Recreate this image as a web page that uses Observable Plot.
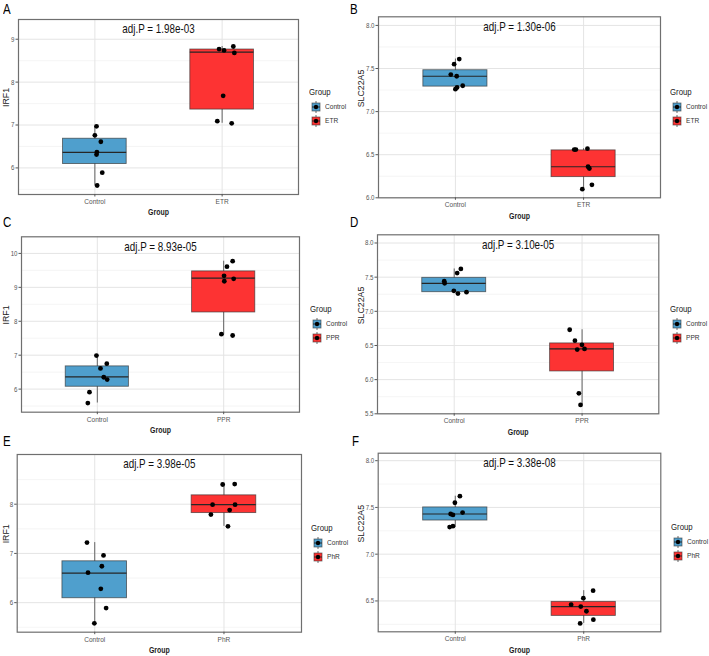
<!DOCTYPE html>
<html><head><meta charset="utf-8">
<script src="https://cdn.jsdelivr.net/npm/d3@7"></script>
<script src="https://cdn.jsdelivr.net/npm/@observablehq/plot@0.6"></script>
<style>
body{margin:0;background:#fff;}
#root{position:relative;width:709px;height:656px;overflow:hidden;font-family:'Liberation Sans',Arial,sans-serif;}
.abs{position:absolute;white-space:nowrap;}
.narrow{transform:scaleX(0.82);transform-origin:0 50%;}
.letter{font-size:14px;color:#000;line-height:14px;}
.legtitle{font-size:9.5px;color:#222;line-height:12px;}
.legitem{font-size:8px;color:#333;line-height:10px;}
svg{overflow:visible;}
</style></head><body><div id="root"></div>
<script>
// ---------------- data ----------------
const panelLetters = ["A","B","C","D","E","F"];
const genes = ["IRF1","SLC22A5","IRF1","SLC22A5","IRF1","SLC22A5"];
const treatGroups = ["ETR","ETR","PPR","PPR","PhR","PhR"];
const adjP = ["1.98e-03","1.30e-06","8.93e-05","3.10e-05","3.98e-05","3.38e-08"];

const controlValues = [
  [6.97, 6.76, 6.61, 6.37, 6.31, 5.89, 5.59],
  [7.55, 7.61, 7.43, 7.41, 7.30, 7.28, 7.26],
  [6.99, 6.75, 6.61, 6.35, 6.28, 5.91, 5.59],
  [7.62, 7.56, 7.44, 7.41, 7.30, 7.26, 7.28],
  [7.22, 6.96, 6.74, 6.61, 6.28, 5.89, 5.58],
  [7.62, 7.55, 7.445, 7.43, 7.42, 7.29, 7.30]
];
const controlJitter = [
  [0.013, 0.0, 0.047, 0.016, 0.013, 0.058, 0.018],
  [-0.01, 0.03, -0.036, 0.01, 0.057, 0.013, 0.0],
  [-0.007, 0.075, 0.025, 0.051, 0.078, -0.062, -0.075],
  [0.052, 0.023, -0.078, -0.075, -0.003, 0.029, 0.096],
  [-0.06, 0.068, 0.055, -0.052, 0.047, 0.088, -0.003],
  [0.036, -0.003, 0.057, -0.036, -0.018, -0.044, -0.018]
];
const treatValues = [
  [8.77, 8.74, 8.83, 8.68, 7.68, 7.09, 7.04],
  [6.56, 6.56, 6.57, 6.36, 6.34, 6.15, 6.10],
  [9.77, 9.61, 9.34, 9.18, 9.25, 7.62, 7.58],
  [6.73, 6.57, 6.51, 6.44, 6.45, 5.80, 5.63],
  [8.40, 8.41, 7.99, 7.99, 7.88, 7.79, 7.55],
  [6.61, 6.53, 6.46, 6.44, 6.39, 6.30, 6.26]
];
const treatJitter = [
  [-0.024, 0.015, 0.088, 0.096, 0.008, -0.038, 0.075],
  [-0.073, -0.06, 0.03, 0.035, 0.045, 0.065, -0.01],
  [0.071, 0.026, 0.003, 0.005, 0.079, -0.018, 0.071],
  [-0.097, -0.056, -0.001, -0.038, 0.019, -0.025, -0.012],
  [-0.01, 0.083, -0.088, 0.086, 0.044, -0.101, 0.031],
  [0.073, -0.003, -0.098, -0.023, 0.021, 0.075, -0.028]
];
// box stats: [lower whisker, Q1, median, Q3, upper whisker]
const controlBox = [
  [5.59, 6.09, 6.36, 6.68, 6.97],
  [7.26, 7.29, 7.41, 7.48, 7.61],
  [5.59, 6.07, 6.36, 6.67, 6.99],
  [7.26, 7.28, 7.41, 7.49, 7.62],
  [5.58, 6.09, 6.60, 6.84, 7.22],
  [7.29, 7.36, 7.43, 7.50, 7.62]
];
const treatBox = [
  [7.04, 7.36, 8.70, 8.76, 8.83],
  [6.10, 6.24, 6.36, 6.55, 6.57],
  [7.60, 8.26, 9.27, 9.47, 9.77],
  [5.63, 6.12, 6.45, 6.53, 6.73],
  [7.55, 7.82, 7.99, 8.18, 8.41],
  [6.26, 6.34, 6.44, 6.49, 6.61]
];
const yDomains = [[5.38, 9.46],[6.0, 8.1],[5.32, 10.49],[5.5, 8.12],[5.40, 9.01],[6.17, 8.08]];
const yTicks = [[6,7,8,9],[6,6.5,7,7.5,8],[6,7,8,9,10],[5.5,6,6.5,7,7.5,8],[6,7,8],[6.5,7,7.5,8]];
const yTickDecimals = [0,1,0,1,0,1];

// ---------------- layout ----------------
const controlColor = "#4f9fcd";
const treatColor = "#fd3333";
const origins = [[0,0],[355,0],[0,215],[355,215],[0,430],[355,430]];
const frames = [[18,298,19,194],[23,305,16.3,197.3],[21,299,21.3,196.7],[22,303.3,19.3,198.3],[16.7,301,24,201.7],[22.7,305.3,22.7,201.3]];
const legendPos = [[309,92],[315,92],[310,94],[315,94.3],[311,98.3],[316,96.7]];
const letterPos = [[3,2],[350,2],[3,215],[350,215],[3,434],[352,434]];
const FONT = "'Liberation Sans',Arial,sans-serif";
const NARROW = 0.82;

const root = document.getElementById("root");

// horizontally condense non-rotated texts around their anchor point
function narrowTexts(svg){
  const num = /^\s*-?\d*\.?\d+\s*$/;
  svg.querySelectorAll("text").forEach(t => {
    const tr = t.getAttribute("transform") || "";
    if (tr.includes("rotate")) return;
    const xa = t.getAttribute("x");
    let xs = 0;
    if (xa != null && num.test(xa)) { xs = +xa; t.removeAttribute("x"); }
    t.setAttribute("transform", `${tr} translate(${xs},0) scale(${NARROW},1)`);
  });
}

function makePanel(i){
  const [ox, oy] = origins[i];
  const [L, R, T, B] = frames[i];
  const W = R + 6, H = B + 26;
  const cats = ["Control", treatGroups[i]];
  const pts = [
    ...controlValues[i].map((v,k)=>({x: 1 + controlJitter[i][k], y: v})),
    ...treatValues[i].map((v,k)=>({x: 2 + treatJitter[i][k], y: v}))
  ];
  const toBox = (b, x) => ({x, lo:b[0], q1:b[1], med:b[2], q3:b[3], hi:b[4]});
  const bc = [toBox(controlBox[i], 1)], bt = [toBox(treatBox[i], 2)];
  const yt = yTicks[i];
  const step = yt[1] - yt[0];
  const [d0, d1] = yDomains[i];
  const minors = Array.from(new Set(yt.flatMap(t => [t - step/2, t + step/2]).map(v => +v.toFixed(4))))
    .filter(v => v > d0 && v < d1 && !yt.includes(v));
  const fmt = d3.format("." + yTickDecimals[i] + "f");
  const boxRect = (data, color) => Plot.rect(data, {x1: d => d.x - 0.25, x2: d => d.x + 0.25, y1: "q1", y2: "q3",
      fill: color, stroke: "#333", strokeOpacity: 0.7, strokeWidth: 0.9});
  const svg = Plot.plot({
    width: W, height: H,
    marginLeft: L, marginRight: W - R, marginTop: T, marginBottom: H - B,
    x: {domain: [0.4, 2.6]},
    y: {domain: yDomains[i]},
    style: {fontFamily: FONT, background: "transparent", overflow: "visible"},
    marks: [
      Plot.ruleY(minors, {stroke: "#eeeeee", strokeWidth: 0.6}),
      Plot.ruleY(yt, {stroke: "#e4e4e4", strokeWidth: 1}),
      Plot.ruleX([1, 2], {stroke: "#e4e4e4", strokeWidth: 1}),
      Plot.ruleX([...bc, ...bt], {x: "x", y1: "lo", y2: "hi", stroke: "#555", strokeWidth: 0.9}),
      boxRect(bc, controlColor),
      boxRect(bt, treatColor),
      Plot.ruleY([...bc, ...bt], {y: "med", x1: d => d.x - 0.25, x2: d => d.x + 0.25, stroke: "#262626", strokeWidth: 1.2}),
      Plot.dot(pts, {x: "x", y: "y", r: 2.4, fill: "#000"}),
      Plot.frame({stroke: "#6f6f6f", strokeWidth: 1.2}),
      Plot.axisY({ticks: yt, tickFormat: fmt, tickSize: 2.5, tickPadding: 1.5, fontSize: 7.5, color: "#555", label: null}),
      Plot.axisX({ticks: [1, 2], tickFormat: d => cats[d - 1], tickSize: 2.5, tickPadding: 1.5, fontSize: 8, color: "#555", label: null}),
      Plot.text([`adj.P = ${adjP[i]}`], {x: [1.5], frameAnchor: "top", dy: 10, fontSize: 12, fill: "#111", lineAnchor: "middle", textAnchor: "middle"}),
      Plot.text(["Group"], {frameAnchor: "bottom", dy: 18, fontSize: 8.5, fontWeight: "bold", fill: "#222", lineAnchor: "middle"}),
      Plot.text([genes[i]], {frameAnchor: "left", dx: 6 - L, rotate: -90, fontSize: 8.8, fill: "#222", lineAnchor: "middle"})
    ]
  });
  svg.classList.add("abs");
  svg.style.left = ox + "px";
  svg.style.top = oy + "px";
  narrowTexts(svg);
  root.appendChild(svg);

  // panel letter
  const let_ = document.createElement("div");
  let_.className = "abs letter narrow";
  let_.textContent = panelLetters[i];
  let_.style.left = letterPos[i][0] + "px";
  let_.style.top = letterPos[i][1] + "px";
  root.appendChild(let_);

  // legend
  const [lx, ly] = legendPos[i];
  const t = document.createElement("div");
  t.className = "abs legtitle narrow";
  t.textContent = "Group";
  t.style.left = (ox + lx) + "px";
  t.style.top = (oy + ly - 6) + "px";
  root.appendChild(t);
  [[cats[0], controlColor], [cats[1], treatColor]].forEach(([lab, col], k) => {
    const cy = oy + ly + 15 + 14 * k;
    const ns = "http://www.w3.org/2000/svg";
    const key = document.createElementNS(ns, "svg");
    key.setAttribute("width", 10); key.setAttribute("height", 12);
    key.setAttribute("class", "abs");
    key.style.left = (ox + lx + 2) + "px";
    key.style.top = (cy - 6) + "px";
    key.innerHTML = `<line x1="5" x2="5" y1="0" y2="12" stroke="#444" stroke-width="0.8"/>
      <rect x="1" y="2" width="8" height="8" fill="${col}" stroke="#333" stroke-opacity="0.7" stroke-width="0.8"/>
      <line x1="1" x2="9" y1="6" y2="6" stroke="#262626" stroke-width="0.9"/>
      <circle cx="5" cy="6" r="2.2" fill="#000"/>`;
    root.appendChild(key);
    const l = document.createElement("div");
    l.className = "abs legitem narrow";
    l.textContent = lab;
    l.style.left = (ox + lx + 16) + "px";
    l.style.top = (cy - 5) + "px";
    root.appendChild(l);
  });
}
for (let i = 0; i < 6; i++) makePanel(i);
</script>
</body></html>
